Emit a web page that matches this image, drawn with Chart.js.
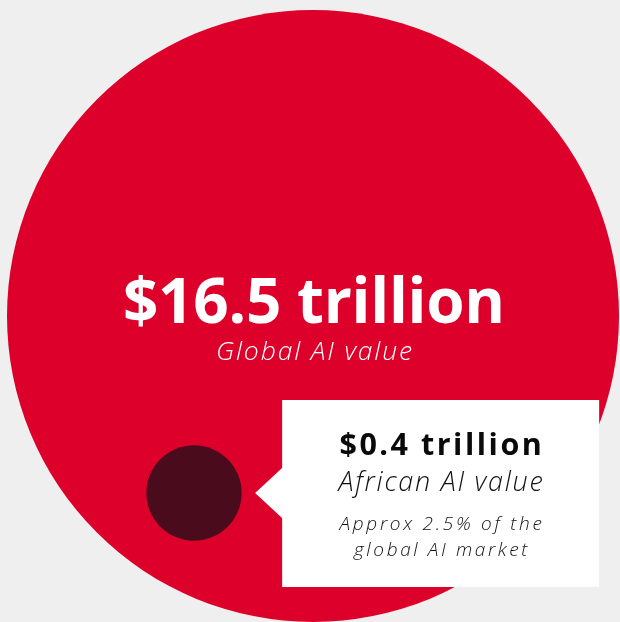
<!DOCTYPE html>
<html>
<head>
<meta charset="utf-8">
<script src="https://cdn.jsdelivr.net/npm/chart.js@4/dist/chart.umd.min.js"></script>
<style>
  html, body { margin: 0; padding: 0; background: #efefef; overflow: hidden; }
  canvas { display: block; }
</style>
</head>
<body>
<canvas id="valueChart" width="620" height="622"></canvas>
<script>
// Données (trillions USD)
const regions = ['Global', 'African'];
const valuesTn = [16.5, 0.4];
const valueLabels = ['$16.5 trillion', '$0.4 trillion'];
const captions = ['Global AI value', 'African AI value'];
const shareNote = ['Approx 2.5% of the', 'global AI market'];
const bubbleColors = ['#dc002b', '#4a0b1d'];

// Mise en page (pixels, espace des axes = espace du canvas)
const centres = [[313, 316], [194, 493]];
const maxRadius = 306;
const family = '"Open Sans", "DejaVu Sans", sans-serif';

const maxValue = Math.max(...valuesTn);
const bubbleData = valuesTn.map((v, i) => ({
    x: centres[i][0],
    y: centres[i][1],
    r: maxRadius * Math.sqrt(v / maxValue)   // aire proportionnelle à la valeur
}));

// taille fixe + espacement des lettres pour atteindre la largeur voulue
function drawText(ctx, text, spec, size, width, color, x, y) {
    ctx.font = spec + ' ' + size + 'px ' + family;
    ctx.letterSpacing = '0px';
    const w = ctx.measureText(text).width;
    const s = (width - w) / text.length;
    ctx.letterSpacing = s.toFixed(2) + 'px';
    ctx.fillStyle = color;
    ctx.textAlign = 'center';
    ctx.textBaseline = 'alphabetic';
    ctx.fillText(text, x + s / 2, y);
}

const labelsPlugin = {
    id: 'bubbleLabels',
    afterDatasetsDraw(chart) {
        const ctx = chart.ctx;
        const pts = chart.getDatasetMeta(0).data;
        const big = pts[0], small = pts[1];
        const smallR = bubbleData[1].r;

        ctx.save();

        // Texte du grand cercle
        drawText(ctx, valueLabels[0], 'bold', 62, 382, '#ffffff', big.x + 1, big.y + 7);
        drawText(ctx, captions[0], 'italic 300', 26.5, 198, '#ffffff', big.x + 1, big.y + 44);

        // Encadré blanc avec pointe
        const left = small.x + smallR + 40.5;
        const top = small.y - 93;
        const w = 317, h = 187;
        ctx.fillStyle = '#ffffff';
        ctx.fillRect(left, top, w, h);
        ctx.beginPath();
        ctx.moveTo(left + 1, small.y - 26);
        ctx.lineTo(left - 27, small.y);
        ctx.lineTo(left + 1, small.y + 26);
        ctx.closePath();
        ctx.fill();

        const cx = left + w / 2;
        drawText(ctx, valueLabels[1], 'bold', 30.5, 205, '#0a0a0a', cx, small.y - 38);
        drawText(ctx, captions[1], 'italic 300', 27, 206, '#111111', cx, small.y - 2);
        drawText(ctx, shareNote[0], 'italic 300', 19, 205, '#111111', cx, small.y + 37);
        drawText(ctx, shareNote[1], 'italic 300', 19, 176, '#111111', cx, small.y + 63);

        ctx.restore();
    }
};

new Chart(document.getElementById('valueChart'), {
    type: 'bubble',
    data: {
        labels: regions,
        datasets: [{
            label: 'AI value',
            data: bubbleData,
            backgroundColor: bubbleColors,
            borderWidth: 0,
            hoverRadius: 0,
            clip: false
        }]
    },
    options: {
        responsive: false,
        animation: false,
        events: [],
        layout: { padding: 0, autoPadding: false },
        plugins: {
            legend: { display: false },
            tooltip: { enabled: false }
        },
        scales: {
            x: { type: 'linear', display: false, min: 0, max: 620 },
            y: { type: 'linear', display: false, min: 0, max: 622, reverse: true }
        }
    },
    plugins: [labelsPlugin]
});
</script>
</body>
</html>
